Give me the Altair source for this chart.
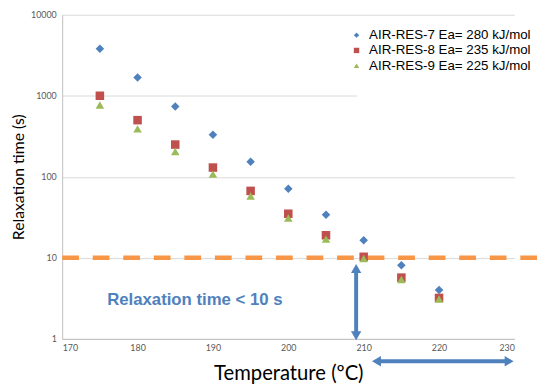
import altair as alt
import pandas as pd

temps = [175, 180, 185, 190, 195, 200, 205, 210, 215, 220]
res7 = [3800, 1680, 735, 330, 153, 71, 34, 16.5, 8.1, 4.0]
res8 = [1000, 500, 250, 130, 67, 35, 19, 10.3, 5.7, 3.2]
res9 = [770, 390, 205, 108, 58, 31, 17, 9.8, 5.4, 3.1]
series_names = ["AIR-RES-7 Ea= 280 kJ/mol", "AIR-RES-8 Ea= 235 kJ/mol", "AIR-RES-9 Ea= 225 kJ/mol"]
series_colors = ["#4F81BD", "#C0504D", "#9BBB59"]
series_shapes = ["diamond", "square", "triangle-up"]

x_ticks = [170, 180, 190, 200, 210, 220, 230]
y_ticks = [1, 10, 100, 1000, 10000]

threshold = 10
threshold_x = [170, 233]
annot_text = "Relaxation time < 10 s"
annot_pos = [187.6, 3.0]
v_arrow = {"x": 209, "y_top": 7.4, "y_bot": 1.09}
h_arrow = {"y": 0.53, "x_left": 211.7, "x_right": 229.3}

rows = []
for name, vals in zip(series_names, [res7, res8, res9]):
    for t, v in zip(temps, vals):
        rows.append({"T": t, "tau": v, "series": name})
df = pd.DataFrame(rows)

xscale = alt.Scale(domain=[170, 230], nice=False)
yscale = alt.Scale(type="log", domain=[1, 10000], nice=False)

blue = "#4F81BD"

xenc = alt.X("T:Q", scale=xscale,
             axis=alt.Axis(values=x_ticks, title="Temperature (ºC)", grid=False, ticks=False,
                           domainColor="#bfbfbf", labelFontSize=9, labelColor="#595959",
                           labelFont="Lato", labelPadding=5, titleFont="Lato", titleFontSize=20.5,
                           titleFontWeight="normal", titleColor="#000000", titlePadding=11))
yenc = alt.Y("tau:Q", scale=yscale,
             axis=alt.Axis(values=y_ticks, title="Relaxation time (s)", grid=True, gridColor="#d9d9d9",
                           ticks=False, domainColor="#bfbfbf", labelFontSize=9, labelColor="#595959",
                           labelFont="Lato", labelPadding=6, format="d", titleFont="Lato",
                           titleFontSize=16, titleFontWeight="normal", titleColor="#000000",
                           titlePadding=4))

cover = alt.Chart(pd.DataFrame({"x1": [209.1], "x2": [230], "y1": [600], "y2": [5000]})).mark_rect(
    color="white").encode(
    x=alt.X("x1:Q", scale=xscale), x2="x2:Q",
    y=alt.Y("y1:Q", scale=yscale), y2="y2:Q")

dash = alt.Chart(pd.DataFrame({"x1": [threshold_x[0]], "x2": [threshold_x[1]], "y": [threshold]})).mark_rule(
    color="#F79646", strokeWidth=4.5, strokeDash=[17, 14], clip=False).encode(
    x=alt.X("x1:Q", scale=xscale), x2="x2:Q", y=alt.Y("y:Q", scale=yscale))

points = alt.Chart(df).mark_point(filled=True, size=75, opacity=1).encode(
    x=xenc, y=yenc,
    color=alt.Color("series:N", scale=alt.Scale(domain=series_names, range=series_colors), title=None,
                    legend=alt.Legend(orient="none", legendX=292, legendY=14, padding=0,
                                      labelFontSize=13.5, labelFont="Liberation Sans", labelColor="#000000",
                                      symbolSize=30, rowPadding=0.5, labelOffset=6, labelLimit=300)),
    shape=alt.Shape("series:N", scale=alt.Scale(domain=series_names, range=series_shapes), title=None),
)

annot = alt.Chart(pd.DataFrame({"x": [annot_pos[0]], "y": [annot_pos[1]], "t": [annot_text]})).mark_text(
    font="Liberation Sans", fontSize=17, fontWeight="bold", color=blue, align="center", baseline="middle").encode(
    x=alt.X("x:Q", scale=xscale), y=alt.Y("y:Q", scale=yscale), text="t:N")


def head(x, y, shape):
    return alt.Chart(pd.DataFrame({"x": [x], "y": [y]})).mark_point(
        filled=True, color=blue, size=110, opacity=1, clip=False, shape=shape).encode(
        x=alt.X("x:Q", scale=xscale), y=alt.Y("y:Q", scale=yscale))


vshaft = alt.Chart(pd.DataFrame({"x": [v_arrow["x"]], "y1": [v_arrow["y_top"]], "y2": [v_arrow["y_bot"]]})).mark_rule(
    color=blue, strokeWidth=4, clip=False).encode(
    x=alt.X("x:Q", scale=xscale), y=alt.Y("y1:Q", scale=yscale), y2="y2:Q")

hshaft = alt.Chart(pd.DataFrame({"y": [h_arrow["y"]], "x1": [h_arrow["x_left"]], "x2": [h_arrow["x_right"]]})).mark_rule(
    color=blue, strokeWidth=4, clip=False).encode(
    y=alt.Y("y:Q", scale=yscale), x=alt.X("x1:Q", scale=xscale), x2="x2:Q")

chart = alt.layer(
    cover, dash, points, annot,
    vshaft, head(v_arrow["x"], v_arrow["y_top"], "triangle-up"), head(v_arrow["x"], v_arrow["y_bot"], "triangle-down"),
    hshaft, head(h_arrow["x_left"], h_arrow["y"], "triangle-left"), head(h_arrow["x_right"], h_arrow["y"], "triangle-right"),
).properties(
    width=459, height=329,
    autosize=alt.AutoSizeParams(type="none"),
    padding={"left": 55, "top": 4, "right": 28, "bottom": 45},
    background="white",
).configure_view(stroke=None)

chart.save("out.html", embed_options={"renderer": "svg", "actions": False})
